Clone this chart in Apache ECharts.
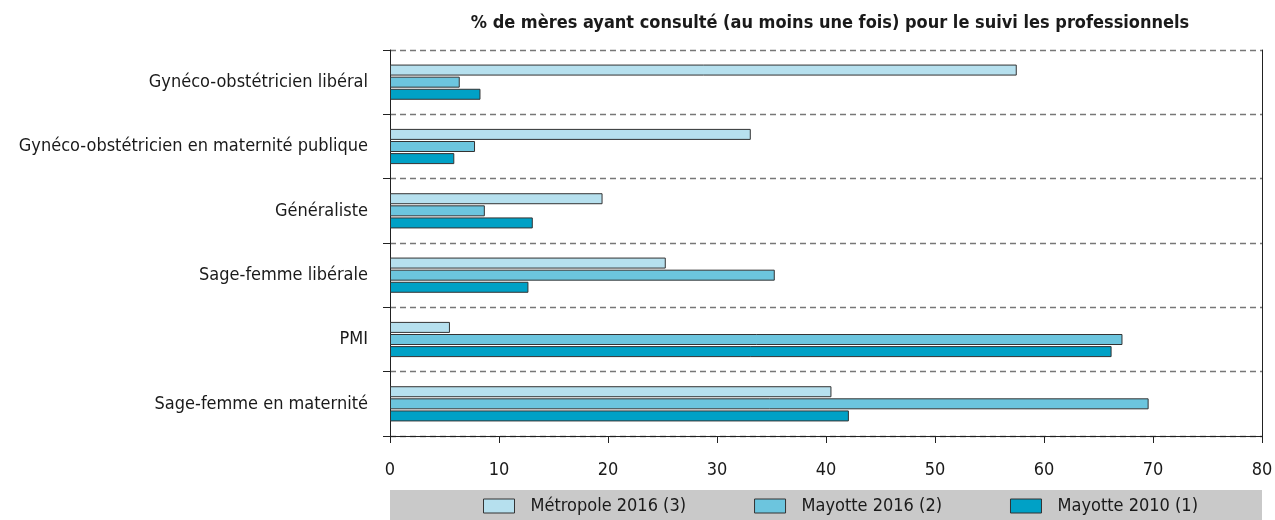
<!DOCTYPE html>
<html>
<head>
<meta charset="utf-8">
<script src="https://cdn.jsdelivr.net/npm/echarts@6/dist/echarts.min.js"></script>
<style>
  html, body { margin: 0; padding: 0; background: #fff; }
  #chart { width: 1275px; height: 520px; }
</style>
</head>
<body>
<div id="chart"></div>
<script>
// categories, top to bottom
const categories = [
  'Gynéco-obstétricien libéral',
  'Gynéco-obstétricien en maternité publique',
  'Généraliste',
  'Sage-femme libérale',
  'PMI',
  'Sage-femme en maternité'
];
const seriesNames = ['Métropole 2016 (3)', 'Mayotte 2016 (2)', 'Mayotte 2010 (1)'];
const metropole2016 = [57.5, 33.1, 19.5, 25.3, 5.5, 40.5];
const mayotte2016 = [6.4, 7.8, 8.7, 35.3, 67.2, 69.6];
const mayotte2010 = [8.3, 5.9, 13.1, 12.7, 66.2, 42.1];
const xTicks = [0, 10, 20, 30, 40, 50, 60, 70, 80];

const FONT = '"Liberation Sans Narrow", "DejaVu Sans Condensed", sans-serif';
const colors = ['#b6e0ee', '#6cc5de', '#00a1c6'];

const chart = echarts.init(document.getElementById('chart'));

const mkSeries = (name, data, i) => ({
  name,
  type: 'bar',
  data,
  barWidth: 11,
  barGap: '10%',
  itemStyle: {
    color: colors[i],
    borderColor: '#333',
    borderWidth: 1
  }
});

const option = {
  animation: false,
  color: colors,
  title: {
    text: '% de mères ayant consulté (au moins une fois) pour le suivi les professionnels',
    left: 825,
    top: 9,
    textAlign: 'center',
    textStyle: {
      fontFamily: FONT,
      fontSize: 18,
      fontWeight: 'bold',
      color: '#1a1a1a'
    }
  },
  // grey band behind the legend
  graphic: [
    {
      type: 'rect',
      left: 390,
      top: 490,
      shape: { width: 872, height: 30 },
      style: { fill: '#c9c9c9' },
      z: 0
    }
  ],
  legend: {
    data: seriesNames,
    icon: 'rect',
    left: 483,
    top: 497,
    padding: 0,
    itemWidth: 31,
    itemHeight: 14,
    itemGap: 68,
    itemStyle: { borderColor: '#333', borderWidth: 1 },
    textStyle: {
      fontFamily: FONT,
      fontSize: 18,
      color: '#1a1a1a',
      padding: [0, 0, 0, 11]
    },
    z: 5
  },
  grid: {
    left: 390,
    right: 13,
    top: 50,
    bottom: 84,
    containLabel: false,
    outerBoundsMode: 'none'
  },
  xAxis: {
    type: 'value',
    min: 0,
    max: 80,
    interval: 10,
    axisLine: { show: true, lineStyle: { color: '#222', width: 1 } },
    axisTick: { show: true, length: 7, lineStyle: { color: '#222' } },
    axisLabel: {
      margin: 25,
      fontFamily: FONT,
      fontSize: 18,
      color: '#1a1a1a',
      customValues: xTicks
    },
    splitLine: { show: false }
  },
  yAxis: [
    {
      type: 'category',
      data: categories,
      inverse: true,
      axisLine: { show: true, lineStyle: { color: '#222', width: 1 } },
      axisTick: { show: true, length: 7, lineStyle: { color: '#222' } },
      axisLabel: {
        margin: 22,
        fontFamily: FONT,
        fontSize: 18,
        color: '#1a1a1a'
      },
      splitLine: {
        show: true,
        lineStyle: { color: '#777', type: [6, 4], width: 1.3 }
      }
    },
    {
      type: 'category',
      data: categories,
      inverse: true,
      position: 'right',
      axisLine: { show: true, lineStyle: { color: '#222', width: 1 } },
      axisTick: { show: false },
      axisLabel: { show: false },
      splitLine: { show: false }
    }
  ],
  series: [
    mkSeries(seriesNames[0], metropole2016, 0),
    mkSeries(seriesNames[1], mayotte2016, 1),
    mkSeries(seriesNames[2], mayotte2010, 2)
  ]
};

chart.setOption(option);
</script>
</body>
</html>
